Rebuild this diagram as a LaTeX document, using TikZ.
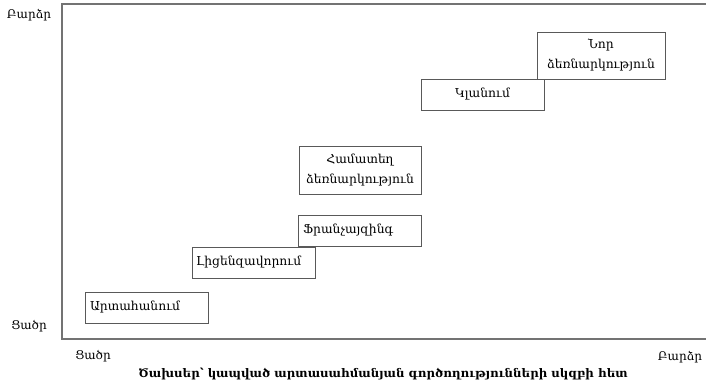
\documentclass[tikz,border=0pt]{standalone}
\usepackage{fontspec}
\setmainfont{DejaVu Serif}
\begin{document}
\begin{tikzpicture}[x=1pt,y=-1pt,
  mode/.style={draw=black!65,line width=0.9pt,fill=white,inner ysep=0pt,
    font=\fontsize{12.3}{20}\selectfont,minimum height=31pt},
  leftmode/.style={mode,inner xsep=5pt,text width=113pt,align=left},
  midmode/.style={mode,inner xsep=0pt,align=center},
  axislabel/.style={font=\fontsize{12}{14}\selectfont,inner sep=0pt}]
\useasboundingbox (0,0) rectangle (706,383);
% plot frame (right side runs off the page)
\draw[black!55,line width=1.3pt] (715,4) -- (62,4) -- (62,339) -- (715,339);
% entry modes
\node[leftmode] (exp) at (146.5,307.5) {Արտահանում};
\node[leftmode,inner xsep=4pt,text width=115pt] (lic) at (253.5,262.5) {Լիցենզավորում};
\node[leftmode] (fra) at (359.5,230.5) {Ֆրանչայզինգ};
\node[midmode,minimum width=122pt,minimum height=48pt] (jv) at (360,170) {Համատեղ\\ձեռնարկություն};
\node[midmode,minimum width=123pt] (acq) at (482.5,94.5) {Կլանում};
\node[midmode,minimum width=128pt,minimum height=47pt] (new) at (601,55.5) {Նոր\\ձեռնարկություն};
% axis labels
\node[axislabel] (yhi) at (29,15) {Բարձր};
\node[axislabel] (ylo) at (29,326) {Ցածր};
\node[axislabel] (xlo) at (93,356) {Ցածր};
\node[axislabel] (xhi) at (680,357) {Բարձր};
\node[axislabel,font=\fontsize{11.8}{14}\selectfont\bfseries] (xtitle) at (383,374) {Ծախսեր՝ կապված արտասահմանյան գործողությունների սկզբի հետ};
\end{tikzpicture}
\end{document}
